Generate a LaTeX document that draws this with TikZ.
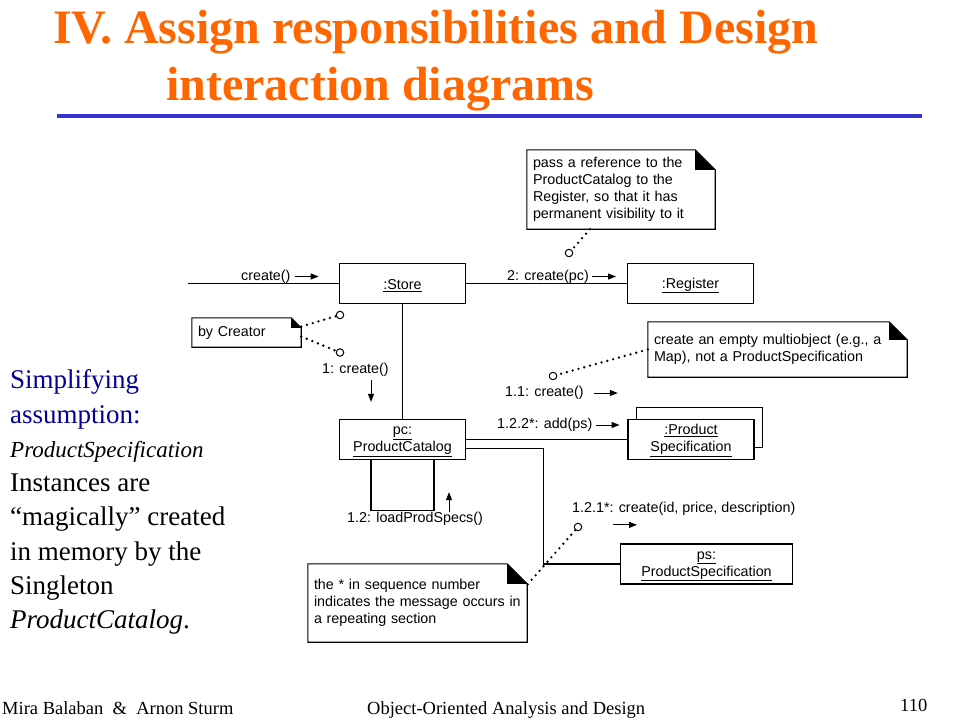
\documentclass[tikz,border=0pt]{standalone}
\usepackage{fontspec}
\setmainfont{Liberation Serif}
\newfontfamily\umlfont{Liberation Sans}
\usepackage{tikz}
\usetikzlibrary{arrows.meta,calc,positioning}
\definecolor{titleorange}{HTML}{FF6600}
\definecolor{rulebar}{HTML}{3333CC}
\definecolor{hintblue}{HTML}{000099}

\begin{document}
\begin{tikzpicture}[x=1pt,y=-1pt,
  titletext/.style={anchor=base west,inner sep=0pt,text=titleorange,font=\bfseries\fontsize{48}{56}\selectfont},
  footer/.style={anchor=base west,inner sep=0pt,font=\fontsize{18.5}{22}\selectfont},
  obj/.style={draw,line width=1.1pt,fill=white,minimum width=126pt,minimum height=40pt,inner sep=0pt,align=center,
    text height=14pt,font=\umlfont\fontsize{14.3}{17}\selectfont},
  objtwo/.style={obj,text height=29.5pt},
  umlnote/.style={inner xsep=6pt,inner ysep=0pt,align=left,font=\umlfont\fontsize{14.3}{17}\selectfont},
  msg/.style={anchor=west,inner sep=0pt,font=\umlfont\fontsize{14.3}{17}\selectfont},
  msgarrow/.style={-{Triangle[length=8pt,width=6pt]},line width=1pt},
  link/.style={line width=1.1pt},
  dotlink/.style={line width=2.6pt,dash pattern=on 0pt off 6pt,line cap=round},
  ring/.style={circle,draw,fill=white,minimum size=7.5pt,inner sep=0pt,line width=1pt}]
\useasboundingbox (0,0) rectangle (960,720);
\fill[white] (0,0) rectangle (960,720);

\node[titletext] (title1) at (53,43) {IV. Assign responsibilities and Design};
\node[titletext] (title2) at (166,100) {interaction diagrams};
\draw[rulebar,line width=4pt] (57,115.5) -- (922,115.5);

\node[obj] (store) at (402.5,283.5) {\underline{:Store}};
\node[obj] (register) at (690.5,283.5) {\underline{:Register}};
\node[objtwo] (catalog) at (402.5,439.5) {\underline{pc:}\\\underline{ProductCatalog}};
\node[obj] (specsback) at (699.5,427.5) {};
\node[objtwo] (specs) at (691,439.5) {\underline{:Product}\\\underline{Specification}};
\node[objtwo,minimum width=172pt] (ps) at (706.5,564) {\underline{ps:}\\\underline{ProductSpecification}};

\coordinate (entry) at (188,283.5);
\draw[link] (entry) -- (store);
\draw[link] (store) -- (register);
\draw[link] (store) -- (catalog);
\draw[link] (catalog.east) -- (specs.west);
\draw[link] ([yshift=-9pt]catalog.east) -- ++(77,0) |- (ps.west);
\draw[link] ([xshift=-31.5pt]catalog.south) -- ++(0,50) -| ([xshift=31.5pt]catalog.south);

\node[msg] (lblcreate) at (241,276.5) {create()};
\draw[msgarrow] ([xshift=4pt]lblcreate.east) -- ++(24,0);
\node[msg] (lblregister) at (507,276.5) {2: create(pc)};
\draw[msgarrow] ([xshift=3pt]lblregister.east) -- ++(24,0);
\node[msg] (lblcatalog) at (322,370) {1: create()};
\draw[msgarrow] ([xshift=49pt,yshift=-3pt]lblcatalog.south west) -- ++(0,22);
\node[msg] (lblmulti) at (505,393) {1.1: create()};
\draw[msgarrow] ([xshift=10pt]lblmulti.east) -- ++(24,0);
\node[msg] (lbladd) at (497,425) {1.2.2*: add(ps)};
\draw[msgarrow] ([xshift=3pt]lbladd.east) -- ++(24,0);
\node[msg] (lblload) at (347,519) {1.2: loadProdSpecs()};
\draw[msgarrow] ([xshift=102pt]lblload.north west) -- ++(0,-20);
\node[msg] (lblspec) at (572,509) {1.2.1*: create(id, price, description)};
\draw[msgarrow] ([xshift=41pt,yshift=-9pt]lblspec.south west) -- ++(24,0);

\node[umlnote,text width=176pt,minimum height=79pt] (noteref) at (621,189.5) {pass a reference to the\\ProductCatalog to the\\Register, so that it has\\permanent visibility to it};
\node[umlnote,text width=97pt,minimum height=29pt] (notecreator) at (246.5,332.5) {by Creator};
\node[umlnote,text width=247pt,minimum height=55pt] (notemulti) at (777.5,349.5) {create an empty multiobject (e.g., a\\Map), not a ProductSpecification};
\node[umlnote,text width=207pt,minimum height=78pt] (notestar) at (417.5,603) {the * in sequence number\\indicates the message occurs in\\a repeating section};
\foreach \n/\c in {noteref/20,notecreator/10,notemulti/18,notestar/20}{
  \draw[line width=1.1pt] (\n.south west) -- (\n.north west) -- ([xshift=-\c pt]\n.north east) -- ([yshift=-\c pt]\n.north east) -- (\n.south east) -- cycle;
  \fill ([xshift=-\c pt]\n.north east) -- ([xshift=-\c pt,yshift=-\c pt]\n.north east) -- ([yshift=-\c pt]\n.north east) -- cycle;
}

\node[ring] (ringref) at (569,253) {};
\draw[dotlink] ([xshift=-31pt]noteref.south) -- (ringref);
\node[ring] (ringstore) at (340,315) {};
\node[ring] (ringcatalog) at (340,352.5) {};
\draw[dotlink] ([yshift=6pt]notecreator.east) -- (ringstore);
\draw[dotlink] ([yshift=-4pt]notecreator.east) -- (ringcatalog);
\node[ring] (ringmulti) at (553,376) {};
\draw[dotlink] (notemulti.west) -- (ringmulti);
\node[ring] (ringspec) at (578,527) {};
\draw[dotlink] (ringspec) -- ([yshift=-21pt]notestar.north east);

\node[anchor=north west,inner sep=0pt,align=left,font=\fontsize{27}{34.3}\selectfont] (assumption) at (10,369.5) {\textcolor{hintblue}{Simplifying}\\\textcolor{hintblue}{assumption:}\\{\fontsize{23}{34.3}\selectfont\itshape ProductSpecification}\\Instances are\\``magically'' created\\in memory by the\\Singleton\\\textit{ProductCatalog}.};

\node[footer] (authors) at (2,714) {Mira Balaban~ \&~ Arnon Sturm};
\node[footer] (course) at (367,714) {Object-Oriented Analysis and Design};
\node[footer] (pagenum) at (900,711) {110};
\end{tikzpicture}
\end{document}
